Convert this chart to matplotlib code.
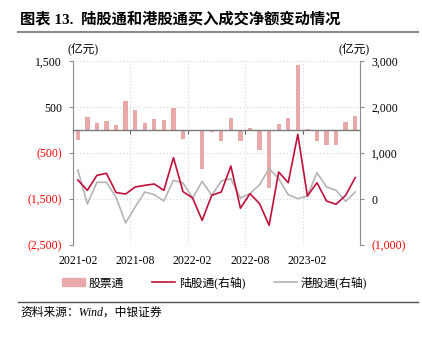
"""Net buying of northbound and southbound Stock Connect."""

import matplotlib.pyplot as plt
from matplotlib.lines import Line2D

months = [
    "2021-02", "2021-03", "2021-04", "2021-05", "2021-06", "2021-07",
    "2021-08", "2021-09", "2021-10", "2021-11", "2021-12", "2022-01",
    "2022-02", "2022-03", "2022-04", "2022-05", "2022-06", "2022-07",
    "2022-08", "2022-09", "2022-10", "2022-11", "2022-12", "2023-01",
    "2023-02", "2023-03", "2023-04", "2023-05", "2023-06", "2023-07",
]
# 股票通 (left axis, bars)
stock_connect = [-217, 290, 160, 188, 109, 638, 428, 145, 239, 225, 478, -203,
                 0, -855, -36, -239, 261, -239, 36, -435, -1261, 130, 261, 1406,
                 14, -239, -333, -333, 181, 312]
# 陆股通 (right axis)
northbound = [413, 188, 514, 558, 140, 109, 261, 297, 326, 188, 899, 160,
              22, -464, 80, 152, 717, -200, 116, -101, -572, 587, 355, 1406,
              65, 355, -43, -116, 80, 464]
# 港股通 (right axis)
southbound = [630, -109, 362, 362, 36, -520, -174, 152, 94, -43, 406, 348,
              22, 384, 80, 391, 442, 22, 116, 311, 659, 442, 94, 7,
              65, 572, 261, 188, -51, 152]

left_ticks = [1500, 500, -500, -1500, -2500]
right_ticks = [3000, 2000, 1000, 0, -1000]
label_every = 6

BAR_COLOR = "#E9A9A9"
RED = "#C0103A"
GRAY = "#B4B4B4"
SPINE = "#8C8C8C"
GRID = "#D6D6D6"
CJK = ["Liberation Serif", "Noto Sans CJK SC"]

plt.rcParams["font.family"] = CJK
plt.rcParams["font.size"] = 8.5


def fmt(value):
    """Excel style number: negatives in parentheses."""
    if value < 0:
        return f"({-value:,})"
    return f"{value:,}"


def style_ticks(axis, ticks):
    axis.set_yticks(ticks, labels=[fmt(v) for v in ticks])
    for tick, value in zip(axis.yaxis.get_major_ticks(), ticks):
        colour = "#FF0000" if value < 0 else "black"
        tick.label1.set_color(colour)
        tick.label2.set_color(colour)


fig = plt.figure(figsize=(4.22, 3.4), dpi=100)
ax = fig.add_axes([73 / 422, 95 / 340, 287 / 422, 184 / 340])
ax2 = ax.twinx()

x = list(range(len(months)))
ax.bar(x, stock_connect, width=0.45, color=BAR_COLOR, zorder=2)
ax2.plot(x, southbound, color=GRAY, lw=1.2, zorder=3)
ax2.plot(x, northbound, color=RED, lw=1.2, zorder=4)

ax.set_xlim(-0.5, len(months) - 0.5)
ax.set_ylim(-2500, 1500)
ax2.set_ylim(-1000, 3000)
style_ticks(ax, left_ticks)
style_ticks(ax2, right_ticks)

# category boundaries every six months carry the ticks and vertical grid
bounds = [i - 0.5 for i in range(0, len(months) + 1, label_every)]
ax.set_xticks(bounds)
ax.tick_params(axis="x", direction="out", length=3, color="#606060",
               labelbottom=False)
ax.grid(True, color=GRID, lw=0.8, linestyle=(0, (1, 2)), zorder=0)
ax.set_axisbelow(True)

ax.spines["bottom"].set_position(("data", 0))
ax.spines["bottom"].set_color("#7A7A7A")
ax.spines["bottom"].set_linewidth(1.0)
ax.spines["bottom"].set_zorder(5)
ax.spines["top"].set_visible(False)
ax.spines["right"].set_visible(False)
ax.spines["left"].set_color(SPINE)
for name in ("top", "left", "bottom"):
    ax2.spines[name].set_visible(False)
ax2.spines["right"].set_color(SPINE)

ax.tick_params(axis="y", length=3, color=SPINE, pad=5)
ax2.tick_params(axis="y", length=3, color=SPINE, pad=5)

sec = ax.secondary_xaxis("bottom")
sec.set_xticks(x[::label_every], labels=months[::label_every])
sec.tick_params(length=0, pad=7)
sec.spines["bottom"].set_visible(False)

ax.text(-0.02, 1.03, "(亿元)", transform=ax.transAxes, ha="left",
        va="bottom", fontsize=8.5)
ax2.text(1.035, 1.03, "(亿元)", transform=ax2.transAxes, ha="right",
         va="bottom", fontsize=8.5)

handles = [
    plt.Rectangle((0, 0), 1, 1, color=BAR_COLOR),
    Line2D([], [], color=RED, lw=1.2),
    Line2D([], [], color=GRAY, lw=1.2),
]
fig.legend(handles, ["股票通", "陆股通(右轴)", "港股通(右轴)"], ncol=3,
           loc="center", bbox_to_anchor=(0.508, 1 - 283 / 340), frameon=False,
           handlelength=1.95, handleheight=0.6, handletextpad=0.3,
           columnspacing=2.4, fontsize=8.5)

fig.text(20 / 422, 1 - 19 / 340, "图表 13.  陆股通和港股通买入成交净额变动情况",
         ha="left", va="center", fontsize=11, fontweight="bold")
fig.add_artist(Line2D([18 / 422, 418 / 422], [1 - 32 / 340] * 2,
                      color="#8A8A8A", lw=1.5))
fig.add_artist(Line2D([18 / 422, 418 / 422], [1 - 301.5 / 340] * 2,
                      color="#505050", lw=1.0))
fig.text(20 / 422, 1 - 313 / 340, "资料来源：Wind，中银证券", ha="left",
         va="center", fontsize=8.5, style="italic")

fig.savefig("out.png", dpi=100)
